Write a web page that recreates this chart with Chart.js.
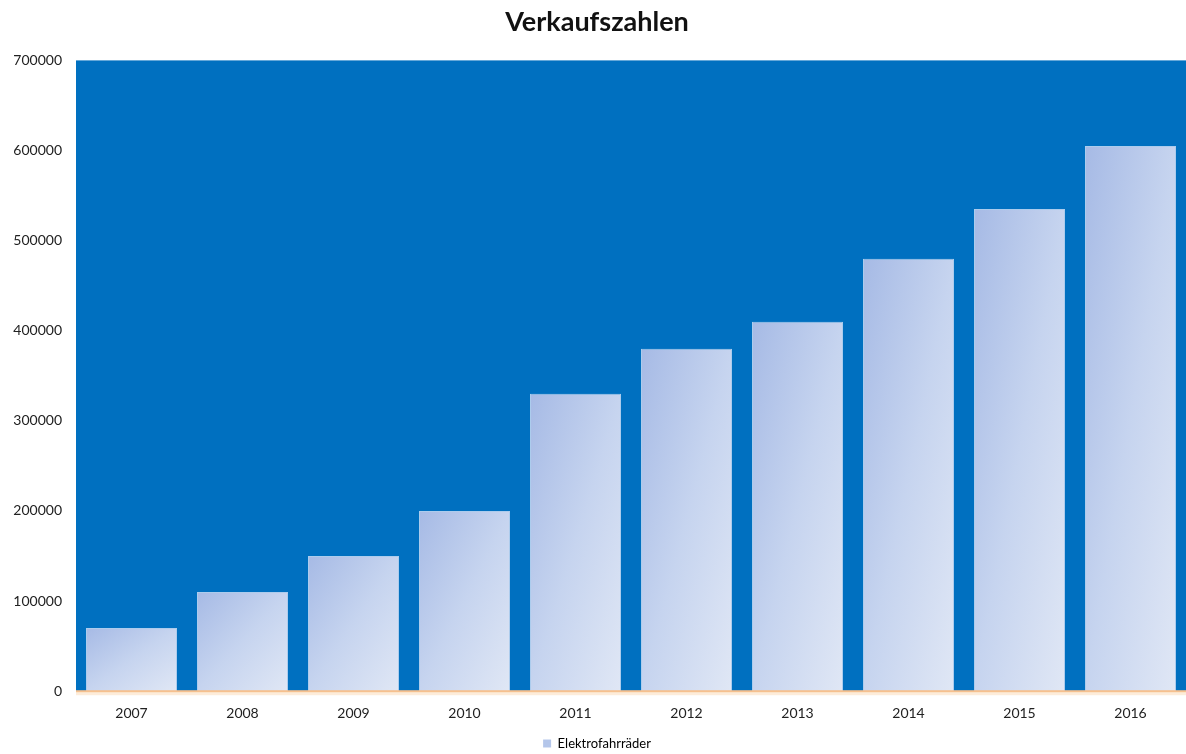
<!DOCTYPE html>
<html>
<head>
<meta charset="utf-8">
<script src="https://cdn.jsdelivr.net/npm/chart.js@4.4.0/dist/chart.umd.min.js"></script>
<style>
  html, body { margin: 0; padding: 0; background: #ffffff; }
  #wrap { width: 1186px; height: 754px; }
</style>
</head>
<body>
<div id="wrap"><canvas id="salesChart" width="1186" height="754"></canvas></div>
<script>
"use strict";

const years = ["2007", "2008", "2009", "2010", "2011", "2012", "2013", "2014", "2015", "2016"];
const salesEbikes = [70000, 110000, 150000, 200000, 330000, 380000, 410000, 480000, 535000, 605000];
const yTicks = [0, 100000, 200000, 300000, 400000, 500000, 600000, 700000];

// fill the plot area with the office blue
const plotBackground = {
  id: "plotBackground",
  beforeDraw(chart) {
    const { ctx, chartArea } = chart;
    ctx.save();
    ctx.fillStyle = "#0070c0";
    ctx.fillRect(chartArea.left, chartArea.top, chartArea.right - chartArea.left, chartArea.bottom - chartArea.top);
    ctx.restore();
  },
  afterDraw(chart) {
    // orange base line with a soft glow
    const { ctx, chartArea } = chart;
    ctx.save();
    ctx.fillStyle = "rgba(250,200,150,0.35)";
    ctx.fillRect(chartArea.left, chartArea.bottom, chartArea.right - chartArea.left, 4);
    ctx.fillStyle = "#f6c08e";
    ctx.fillRect(chartArea.left, chartArea.bottom - 1, chartArea.right - chartArea.left, 2);
    ctx.restore();
  },
};

// office style 45deg gradient, scaled with the bar shape
function barGradient(context) {
  const chart = context.chart;
  const xScale = chart.scales.x;
  const yScale = chart.scales.y;
  if (!xScale || !yScale || !chart.chartArea) return "#c3d1ee";
  const value = salesEbikes[context.dataIndex];
  const cx = xScale.getPixelForValue(context.dataIndex);
  const w = (xScale.width / years.length) * 0.82;
  const top = yScale.getPixelForValue(value);
  const h = yScale.getPixelForValue(0) - top;
  const x0 = cx - w / 2;
  const k = (2 * w * h) / (h * h + w * w);
  const g = chart.ctx.createLinearGradient(x0, top, x0 + h * k, top + w * k);
  g.addColorStop(0, "#a6bae5");
  g.addColorStop(0.5, "#c6d4ef");
  g.addColorStop(1, "#e0e7f5");
  return g;
}

const chart = new Chart(document.getElementById("salesChart"), {
  type: "bar",
  data: {
    labels: years,
    datasets: [
      {
        label: "Elektrofahrräder",
        data: salesEbikes,
        backgroundColor: barGradient,
        borderColor: "rgba(215,228,248,0.8)",
        borderWidth: 1,
        categoryPercentage: 0.82,
        barPercentage: 1.0,
      },
    ],
  },
  options: {
    responsive: false,
    animation: false,
    layout: { padding: { left: 8, right: 0, top: 2, bottom: -6 } },
    plugins: {
      title: {
        display: true,
        text: "Verkaufszahlen",
        color: "#111111",
        font: { family: "Lato", size: 27, weight: "bold" },
        padding: { top: 4, bottom: 22 },
      },
      legend: {
        display: true,
        position: "bottom",
        labels: {
          color: "#333333",
          font: { family: "Lato", size: 13 },
          boxWidth: 8,
          boxHeight: 8,
          padding: 1,
          generateLabels(chart) {
            return [{
              text: "Elektrofahrräder",
              fillStyle: "#b4c6ea",
              strokeStyle: "#b4c6ea",
              lineWidth: 0,
              datasetIndex: 0,
            }];
          },
        },
      },
      tooltip: { enabled: false },
    },
    scales: {
      x: {
        grid: { display: false, drawTicks: false },
        border: { display: false },
        ticks: {
          color: "#222222",
          font: { family: "Lato", size: 14 },
          padding: 14,
        },
      },
      y: {
        min: 0,
        max: 700000,
        afterBuildTicks(scale) {
          scale.ticks = yTicks.map((v) => ({ value: v }));
        },
        afterFit(scale) {
          scale.width = 68;
        },
        grid: { display: false, drawTicks: false },
        border: { display: false },
        ticks: {
          color: "#222222",
          font: { family: "Lato", size: 14 },
          padding: 14,
          callback: (v) => String(v),
        },
      },
    },
  },
  plugins: [plotBackground],
});
</script>
</body>
</html>
